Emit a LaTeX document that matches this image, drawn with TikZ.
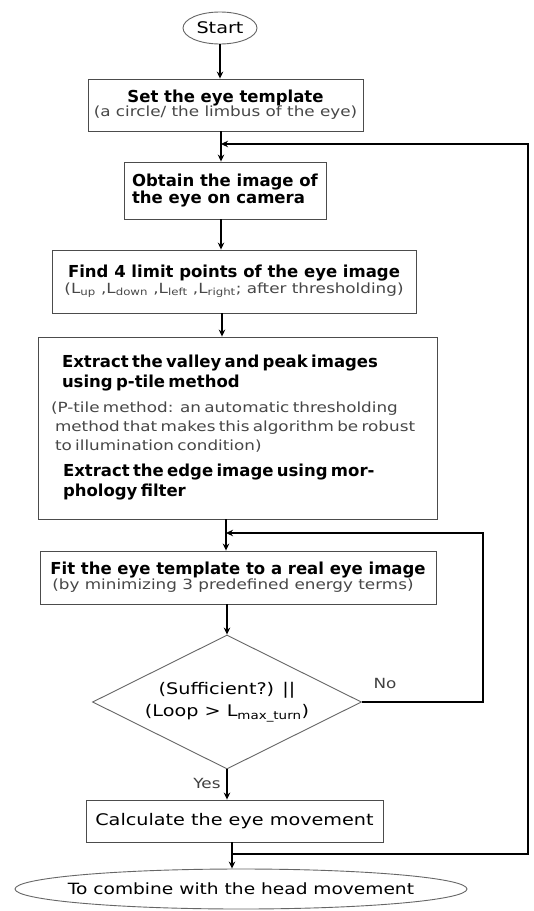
\documentclass[tikz,border=0pt]{standalone}
\usepackage{fontspec}
\setmainfont{DejaVu Sans}
\newfontfamily\wideface[FakeStretch=1.2]{DejaVu Sans}
\usetikzlibrary{shapes.geometric,arrows.meta}
\newcommand\bsz{\fontsize{16.5}{20}\selectfont\bfseries}
\newcommand\rsz{\fontsize{14}{19}\selectfont\wideface\color{black!72}}
\newcommand\msz{\fontsize{16}{21}\selectfont\wideface}
\begin{document}
\begin{tikzpicture}[x=1pt,y=-1pt,
  box/.style={draw=black!70, line width=0.9pt, inner sep=0pt, align=center},
  conn/.style={line width=1.3pt, -{Stealth[length=7pt,width=6.5pt]}},
  lbl/.style={font=\fontsize{14}{16}\selectfont\wideface, text=black!75, inner sep=0pt}
]
\useasboundingbox (0,0) rectangle (534,911);
\fill[white] (0,0) rectangle (534,911);

% nodes
\node[box, ellipse, draw=black!60, minimum width=74pt, minimum height=32pt] (start) at (220,28) {\msz Start};
\node[box, minimum width=275pt, minimum height=52pt] (box1) at (225.5,105)
  {{\bsz Set the eye template}\\[-1pt]{\rsz (a circle/ the limbus of the eye)}};
\node[box, align=left, minimum width=202pt, minimum height=57pt] (box2) at (225,190.5)
  {\bsz Obtain the image of\\\bsz the eye on camera};
\node[box, minimum width=364pt, minimum height=63pt] (box3) at (234,281.5)
  {{\bsz Find 4 limit points of the eye image}\\{\rsz (L\textsubscript{up} ,L\textsubscript{down} ,L\textsubscript{left} ,L\textsubscript{right}; after thresholding)}};
\node[box, align=left, text width=379pt, inner xsep=10pt, minimum width=399pt, minimum height=182pt] (box4) at (237.5,428)
  {{\bsz\hspace*{14pt}Extract the valley and peak images\\\hspace*{14pt}using p-tile method\par}
   \vspace{6pt}
   {\rsz\hspace*{3pt}(P-tile method:\ \ an automatic thresholding\\\hspace*{7pt}method that makes this algorithm be robust\\\hspace*{7pt}to illumination condition)\par}
   \vspace{6pt}
   {\bsz\hspace*{15pt}Extract the edge image using mor-\\\hspace*{15pt}phology filter\par}};
\node[box, align=left, minimum width=396pt, minimum height=53pt] (box5) at (238,577.5)
  {{\bsz Fit the eye template to a real eye image}\\{\rsz\hspace*{2pt}(by minimizing 3 predefined energy terms)}};
\node[box, diamond, shape aspect=2, draw=black!60, minimum width=269pt, minimum height=134pt] (dec) at (227,702)
  {\msz (Sufficient?) ||\\[6pt]\msz (Loop > L\textsubscript{max\_turn})};
\node[box, minimum width=297pt, minimum height=42pt] (box6) at (234.5,821)
  {\msz Calculate the eye movement};
\node[box, ellipse, draw=black!60, inner xsep=-30pt, inner ysep=0pt, minimum width=452pt, minimum height=40pt] (end) at (241,889)
  {\fontsize{15.5}{18}\selectfont\wideface To combine with the head movement};

% junction coordinates
\coordinate (j1) at (221,144);
\coordinate (j2) at (222,330);
\coordinate (j3) at (226,533);
\coordinate (j4) at (232,854);
\coordinate (r1) at (528,500);
\coordinate (r2) at (483,600);

% connectors
\draw[conn] (start.south) -- (start.south |- box1.north);
\draw[conn] (box1.south -| j1) -- (box2.north -| j1);
\draw[conn] (box2.south -| j1) -- (box3.north -| j1);
\draw[conn] (box3.south -| j2) -- (box4.north -| j2);
\draw[conn] (box4.south -| j3) -- (box5.north -| j3);
\draw[conn] (box5.south -| dec.north) -- (dec.north);
\draw[conn] (dec.south) -- (box6.north -| dec.south);
\draw[conn] (box6.south -| j4) -- (end.north -| j4);
\draw[conn] (j4) -| (r1) |- (j1);
\draw[conn] (dec.east) -| (r2) |- (j3);

% labels
\node[lbl] (no) at (385,683) {No};
\node[lbl] (yes) at (207,783) {Yes};
\end{tikzpicture}
\end{document}
